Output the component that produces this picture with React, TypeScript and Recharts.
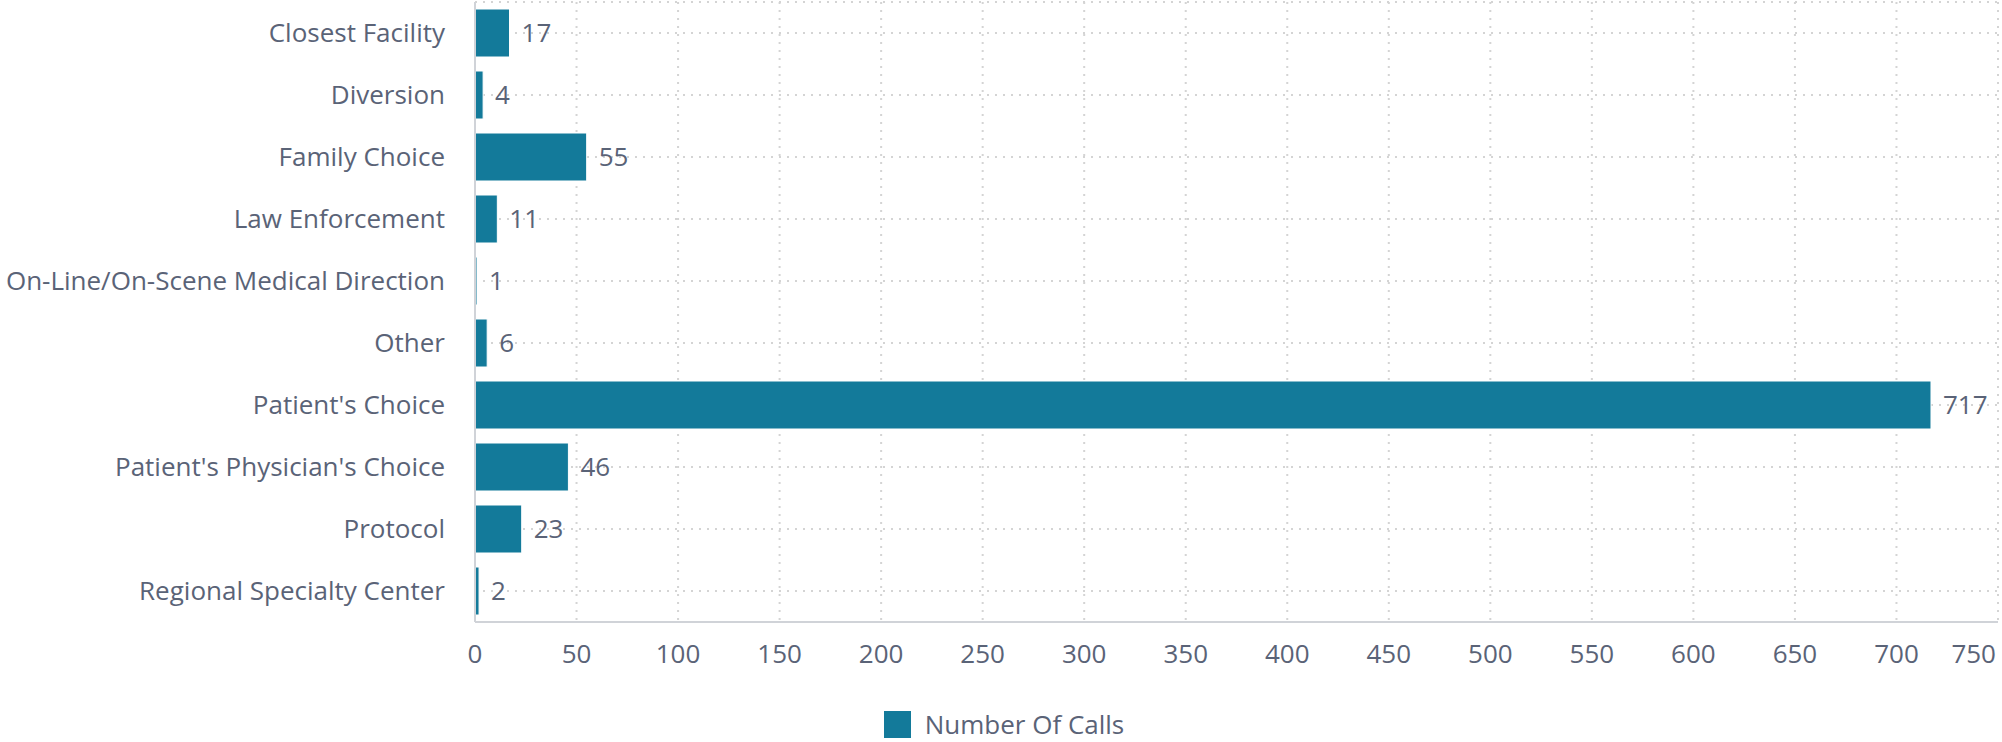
import { Bar, BarChart, CartesianGrid, LabelList, Legend, XAxis, YAxis } from "recharts";

const reasons = [
  "Closest Facility",
  "Diversion",
  "Family Choice",
  "Law Enforcement",
  "On-Line/On-Scene Medical Direction",
  "Other",
  "Patient's Choice",
  "Patient's Physician's Choice",
  "Protocol",
  "Regional Specialty Center",
];
const calls = [17, 4, 55, 11, 1, 6, 717, 46, 23, 2];
const xTicks = [0, 50, 100, 150, 200, 250, 300, 350, 400, 450, 500, 550, 600, 650, 700, 750];

const data = reasons.map((name, i) => ({ name, calls: calls[i] }));

const textColor = "#5a6377";
const barColor = "#137a9a";

const XTick = ({ x, y, payload, index }) => {
  const last = index === xTicks.length - 1;
  return (
    <text
      x={last ? x - 2 : x}
      y={y}
      dy="0.71em"
      textAnchor={last ? "end" : "middle"}
      fill={textColor}
      fontSize={26}
    >
      {payload.value}
    </text>
  );
};

const LegendContent = () => (
  <div style={{ display: "flex", justifyContent: "center", alignItems: "center", height: 32, paddingLeft: 10 }}>
    <span style={{ width: 27, height: 27, background: barColor, display: "inline-block", marginRight: 14 }} />
    <span style={{ fontSize: 26, color: textColor }}>Number Of Calls</span>
  </div>
);

export default function App() {
  return (
    <div style={{ position: "absolute", left: 0, top: 0, fontFamily: "'Open Sans', sans-serif" }}>
      <BarChart
        width={2002}
        height={742}
        data={data}
        layout="vertical"
        margin={{ top: 2, right: 4, left: 0, bottom: 2 }}
        barCategoryGap={7}
      >
        <CartesianGrid stroke="#d4d4d4" strokeDasharray="2 6" strokeWidth={2} />
        <XAxis
          type="number"
          domain={[0, 750]}
          ticks={xTicks}
          interval={0}
          tickLine={false}
          tickSize={0}
          tickMargin={23}
          height={86}
          stroke="#d0d3d8"
          strokeWidth={2}
          tick={<XTick />}
        />
        <YAxis
          type="category"
          dataKey="name"
          width={475}
          interval={0}
          tickLine={false}
          tickSize={0}
          tickMargin={30}
          stroke="#d0d3d8"
          strokeWidth={2}
          tick={{ fill: textColor, fontSize: 26 }}
        />
        <Legend verticalAlign="bottom" height={32} content={<LegendContent />} />
        <Bar dataKey="calls" fill={barColor} stroke="#ffffff" strokeWidth={1} isAnimationActive={false}>
          <LabelList dataKey="calls" position="right" offset={12} fill={textColor} stroke="none" fontSize={26} />
        </Bar>
      </BarChart>
    </div>
  );
}
